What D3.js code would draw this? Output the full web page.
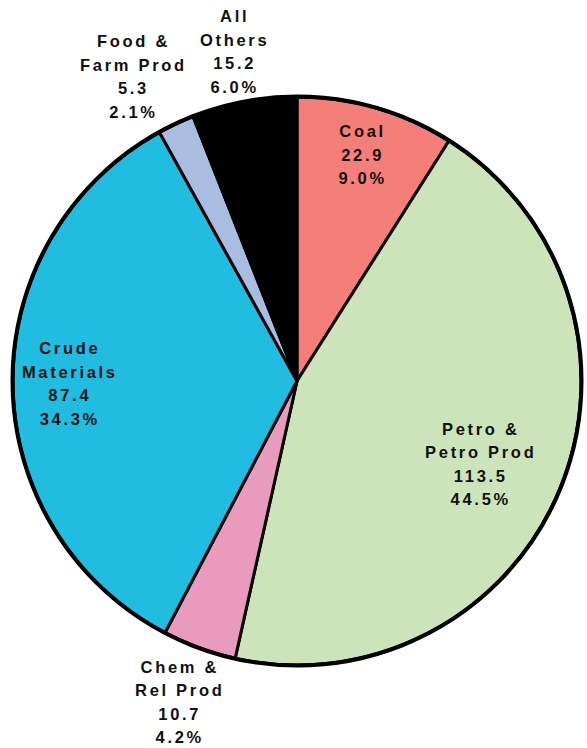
<!DOCTYPE html>
<html>
<head>
<meta charset="utf-8">
<script src="https://cdn.jsdelivr.net/npm/d3@7"></script>
<style>
  body { margin: 0; background: #fff; }
  .lbl { font-family: "Liberation Sans", Arial, sans-serif; font-weight: bold; font-size: 16.5px; letter-spacing: 2.7px; fill: #111; }
</style>
</head>
<body>
<script>
const w = 587;
const h = 748;

// data, clockwise from 12 o'clock
const categories = ["Coal", "Petro & Petro Prod", "Chem & Rel Prod", "Crude Materials", "Food & Farm Prod", "All Others"];
const labelLines = [["Coal"], ["Petro &", "Petro Prod"], ["Chem &", "Rel Prod"], ["Crude", "Materials"], ["Food &", "Farm Prod"], ["All", "Others"]];
const values = [22.9, 113.5, 10.7, 87.4, 5.3, 15.2];
const percents = ["9.0%", "44.5%", "4.2%", "34.3%", "2.1%", "6.0%"];

const colors = ["#f47f79", "#cde4bb", "#e99bbd", "#21bde0", "#a9bde0", "#000000"];
// label radius as fraction of pie radius, plus small nudges
const labelR = [0.83, 0.70, 1.20, 0.80, 1.22, 1.18];
const nudgeX = [0, 0, 0, 0, -16, 0];
const nudgeY = [0, 7, 1, 0, 9, 0];

const cx = 297, cy = 381, r = 284;
const lineH = 23.5;

const svg = d3.select("body")
              .append("svg")
              .attr("width", w)
              .attr("height", h);

const pie = d3.pie().sort(null).value(d => d);
const arcs = pie(values);

const arc = d3.arc().innerRadius(0).outerRadius(r);

const g = svg.append("g")
             .attr("transform", "translate(" + cx + "," + cy + ")");

g.selectAll("path")
 .data(arcs)
 .enter()
 .append("path")
 .attr("d", arc)
 .attr("fill", (d, i) => colors[i])
 .attr("stroke", "#000")
 .attr("stroke-width", 3)
 .attr("stroke-linejoin", "round");

// heavier outer rim
g.append("circle")
 .attr("r", r + 0.5)
 .attr("fill", "none")
 .attr("stroke", "#000")
 .attr("stroke-width", 4);

const labels = g.selectAll(".label")
                .data(arcs)
                .enter()
                .append("text")
                .attr("class", "lbl")
                .attr("text-anchor", "middle")
                .attr("transform", (d, i) => {
                  const lr = labelR[i] * r;
                  const c = d3.arc().innerRadius(lr).outerRadius(lr).centroid(d);
                  return "translate(" + (c[0] + nudgeX[i]) + "," + (c[1] + nudgeY[i]) + ")";
                });

labels.each(function(d, i) {
  const lines = labelLines[i].concat([values[i].toFixed(1), percents[i]]);
  const t = d3.select(this);
  const y0 = -(lines.length - 1) * lineH / 2 + 6;
  lines.forEach((s, k) => {
    t.append("tspan")
     .attr("x", 0)
     .attr("y", y0 + k * lineH)
     .text(s);
  });
});
</script>
</body>
</html>
